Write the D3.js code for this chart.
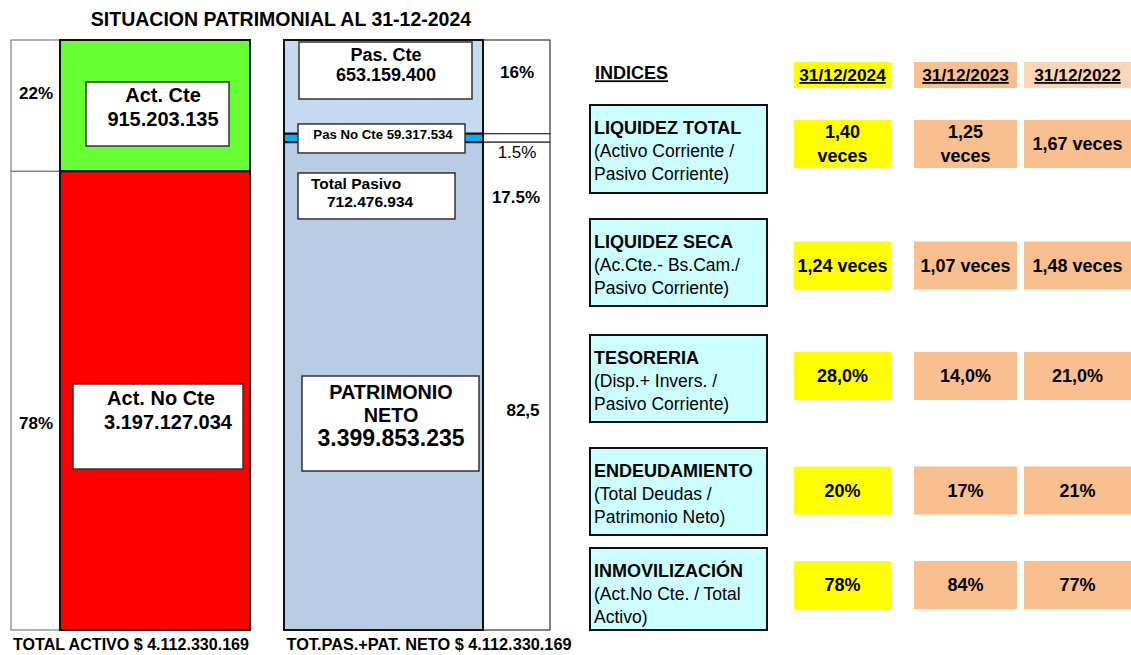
<!DOCTYPE html>
<html>
<head>
<meta charset="utf-8">
<script src="https://cdn.jsdelivr.net/npm/d3@7"></script>
<style>
  body { margin: 0; background: #fff; }
  svg text { font-family: "Liberation Sans", Arial, sans-serif; fill: #000; }
</style>
</head>
<body>
<svg id="chart" width="1131" height="655"></svg>
<script>
// data
const titulo = "SITUACION PATRIMONIAL AL 31-12-2024";
const totalActivo = 4112330169;

const activoLabels = ["Act. Cte", "Act. No Cte"];
const activoValues = [915203135, 3197127034];
const activoPct = ["22%", "78%"];

const pasivoLabels = ["Pas. Cte", "Pas No Cte", "PATRIMONIO NETO"];
const pasivoValues = [653159400, 59317534, 3399853235];
const pasivoPct = ["16%", "1.5%", "82,5"];

const totalPasivoLabel = "Total Pasivo";
const totalPasivoValue = 712476934;
const totalPasivoPct = "17.5%";

const fechas = ["31/12/2024", "31/12/2023", "31/12/2022"];
const indices = ["LIQUIDEZ TOTAL", "LIQUIDEZ SECA", "TESORERIA", "ENDEUDAMIENTO", "INMOVILIZACIÓN"];
const formulas = [
    ["(Activo Corriente /", "Pasivo Corriente)"],
    ["(Ac.Cte.- Bs.Cam./", "Pasivo Corriente)"],
    ["(Disp.+ Invers. /", "Pasivo Corriente)"],
    ["(Total Deudas /", "Patrimonio Neto)"],
    ["(Act.No Cte. / Total", "Activo)"]
];
const valores2024 = ["1,40|veces", "1,24 veces", "28,0%", "20%", "78%"];
const valores2023 = ["1,25|veces", "1,07 veces", "14,0%", "17%", "84%"];
const valores2022 = ["1,67 veces", "1,48 veces", "21,0%", "21%", "77%"];

const es = d3.formatLocale({ decimal: ",", thousands: ".", grouping: [3], currency: ["$ ", ""] });
const fmt = es.format(",d");

const svg = d3.select("#chart");

// vertical scale shared by both stacked bars
const barTop = 40, barBottom = 630;
const y = d3.scaleLinear().domain([0, totalActivo]).range([barTop, barBottom]);

function stack(values) {
    let acc = 0;
    return values.map(v => { const s = { y0: acc, y1: acc + v }; acc += v; return s; });
}

function box(g, x, yy, w, h) {
    g.append("rect").attr("x", x).attr("y", yy).attr("width", w).attr("height", h)
        .attr("fill", "#fff").attr("stroke", "#333").attr("stroke-width", 1.5);
}

function label(g, x, yy, txt, size, anchor = "middle", weight = "bold") {
    return g.append("text").attr("x", x).attr("y", yy).attr("dy", "0.35em")
        .attr("text-anchor", anchor).style("font-size", size + "px")
        .style("font-weight", weight).text(txt);
}

// title
label(svg, 281, 19, titulo, 19.5);

// ---------- ACTIVO ----------
const act = svg.append("g");
const actStack = stack(activoValues);
const actColors = ["#66ff33", "#ff0000"];

act.selectAll(".pct").data(actStack).enter().append("rect")
    .attr("x", 11).attr("width", 49)
    .attr("y", d => y(d.y0)).attr("height", d => y(d.y1) - y(d.y0))
    .attr("fill", "#fff").attr("stroke", "#666").attr("stroke-width", 1);

act.selectAll(".seg").data(actStack).enter().append("rect")
    .attr("x", 60).attr("width", 190)
    .attr("y", d => y(d.y0)).attr("height", d => y(d.y1) - y(d.y0))
    .attr("fill", (d, i) => actColors[i]).attr("stroke", "#111").attr("stroke-width", 2);

// Act. Cte
const a0 = actStack[0];
box(act, 86, y(a0.y0) + 42, 143, 64);
label(act, 163, y(a0.y0) + 55, activoLabels[0], 20);
label(act, 163, y(a0.y0) + 79, fmt(activoValues[0]), 20);
label(act, 36, y(a0.y0) + 53, activoPct[0], 17);

// Act. No Cte
const a1 = actStack[1];
box(act, 73, y(a1.y1) - 246, 170, 85);
label(act, 161, y(a1.y1) - 232, activoLabels[1], 20);
label(act, 168, y(a1.y1) - 208, fmt(activoValues[1]), 20);
label(act, 36, y(a1.y1) - 207, activoPct[1], 17);

label(svg, 131, 644, "TOTAL ACTIVO $ " + fmt(totalActivo), 17)
    .attr("textLength", 236).attr("lengthAdjust", "spacingAndGlyphs");

// ---------- PASIVO + PN ----------
const pas = svg.append("g");
const pasStack = stack(pasivoValues);
const pasColors = ["#c5d9f1", "#00b0f0", "#b8cce4"];

pas.selectAll(".pct").data(pasStack).enter().append("rect")
    .attr("x", 483).attr("width", 67)
    .attr("y", d => y(d.y0)).attr("height", d => y(d.y1) - y(d.y0))
    .attr("fill", "#fff").attr("stroke", "#333").attr("stroke-width", 1.2);

pas.selectAll(".seg").data(pasStack).enter().append("rect")
    .attr("x", 284).attr("width", 199)
    .attr("y", d => y(d.y0)).attr("height", d => y(d.y1) - y(d.y0))
    .attr("fill", (d, i) => pasColors[i]).attr("stroke", "#111").attr("stroke-width", 2);

// Pas. Cte
const p0 = pasStack[0];
box(pas, 299, y(p0.y0) + 2, 173, 57);
label(pas, 386, y(p0.y0) + 15, pasivoLabels[0], 18);
label(pas, 386, y(p0.y0) + 35, fmt(pasivoValues[0]), 18);
label(pas, 517, y(p0.y0) + 32, pasivoPct[0], 17);

// Pas No Cte
const p1 = pasStack[1];
const p1c = (y(p1.y0) + y(p1.y1)) / 2;
box(pas, 298, p1c - 14, 167, 29);
label(pas, 383, p1c - 4, pasivoLabels[1] + " " + fmt(pasivoValues[1]), 13.2);
label(pas, 517, p1c + 14, pasivoPct[1], 17, "middle", "normal");

// Total Pasivo
const tpTop = p1c + 35;
box(pas, 298, tpTop, 157, 46);
label(pas, 311, tpTop + 11, totalPasivoLabel, 15.5, "start");
label(pas, 327, tpTop + 29, fmt(totalPasivoValue), 15.5, "start");
label(pas, 516, tpTop + 24, totalPasivoPct, 17);

// Patrimonio Neto
const p2 = pasStack[2];
const pnTop = y(p2.y1) - 254;
box(pas, 302, pnTop, 177, 95);
label(pas, 391, pnTop + 16, "PATRIMONIO", 19.8);
label(pas, 391, pnTop + 39, "NETO", 19.8);
label(pas, 391, pnTop + 62, fmt(pasivoValues[2]), 23);
label(pas, 523, y(p2.y1) - 220, pasivoPct[2], 17);

label(svg, 429, 644, "TOT.PAS.+PAT. NETO $ " + fmt(totalActivo), 17)
    .attr("textLength", 285).attr("lengthAdjust", "spacingAndGlyphs");

// ---------- INDICES ----------
const tab = svg.append("g");
const colX = d3.scaleOrdinal().domain(fechas).range([794, 914, 1024]);
const colW = d3.scaleOrdinal().domain(fechas).range([97, 103, 107]);
const headFill = d3.scaleOrdinal().domain(fechas).range(["#ffff00", "#f9bf8f", "#fcd5b4"]);
const cellFill = d3.scaleOrdinal().domain(fechas).range(["#ffff00", "#f9bf8f", "#f9bf8f"]);
const rowY = d3.scaleOrdinal().domain(indices).range([144, 265.5, 376, 490.5, 585]);
const boxY = d3.scaleOrdinal().domain(indices).range([105, 219, 335, 448, 548]);
const boxH = d3.scaleOrdinal().domain(indices).range([88, 87, 87, 87, 82]);

label(tab, 595, 73, "INDICES", 18, "start").style("text-decoration", "underline");

fechas.forEach(f => {
    tab.append("rect").attr("x", colX(f)).attr("y", 62).attr("width", colW(f)).attr("height", 26)
        .attr("fill", headFill(f));
    label(tab, colX(f) + colW(f) / 2, 75, f, 17.3).style("text-decoration", "underline");
});

const valores = [valores2024, valores2023, valores2022];

indices.forEach((ind, i) => {
    const cy = rowY(ind);
    const bTop = boxY(ind);
    tab.append("rect").attr("x", 590).attr("y", bTop).attr("width", 177).attr("height", boxH(ind))
        .attr("fill", "#ccffff").attr("stroke", "#111").attr("stroke-width", 2);
    label(tab, 594, bTop + 23, ind, 18, "start");
    formulas[i].forEach((t, j) => label(tab, 594, bTop + 45.5 + j * 23, t, 17.5, "start", "normal"));

    fechas.forEach((f, k) => {
        tab.append("rect").attr("x", colX(f)).attr("y", cy - 24).attr("width", colW(f)).attr("height", 48)
            .attr("fill", cellFill(f));
        const lines = valores[k][i].split("|");
        lines.forEach((t, j) => label(tab, colX(f) + colW(f) / 2,
            cy + (j - (lines.length - 1) / 2) * 24, t, 18));
    });
});
</script>
</body>
</html>
